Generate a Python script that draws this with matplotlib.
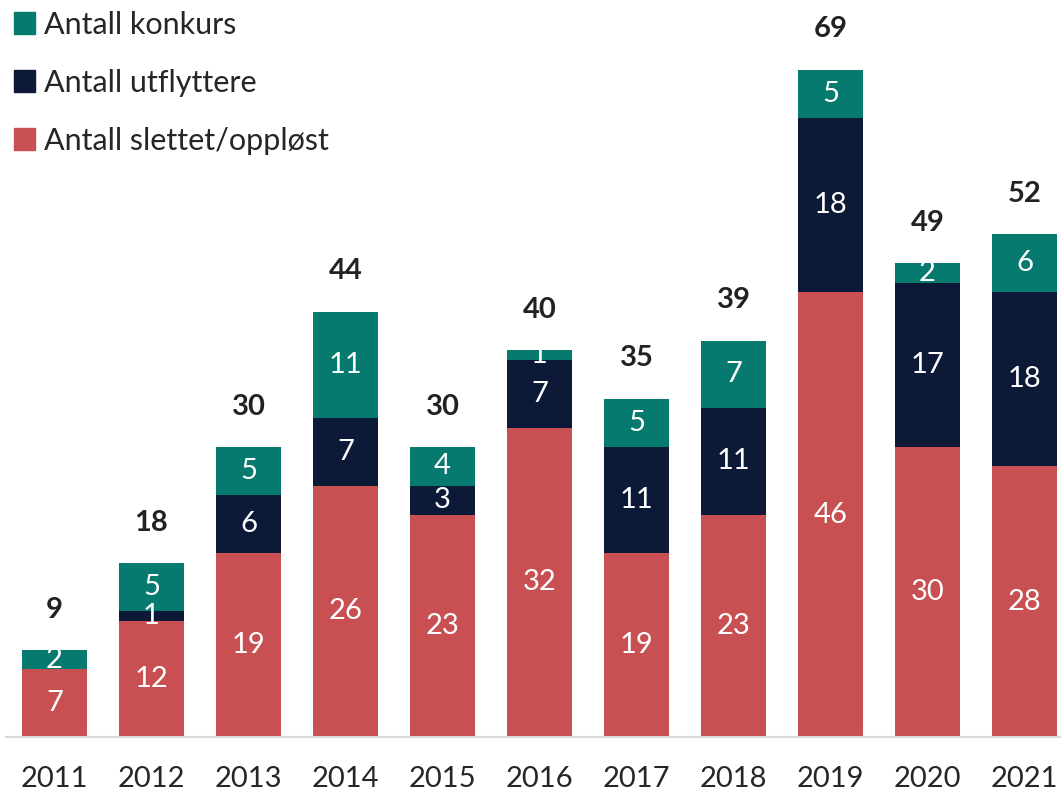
import matplotlib
matplotlib.use("Agg")
import matplotlib.pyplot as plt
from matplotlib.patches import Patch

years = ["2011", "2012", "2013", "2014", "2015", "2016", "2017", "2018", "2019", "2020", "2021"]
slettet = [7, 12, 19, 26, 23, 32, 19, 23, 46, 30, 28]
utflyttere = [0, 1, 6, 7, 3, 7, 11, 11, 18, 17, 18]
konkurs = [2, 5, 5, 11, 4, 1, 5, 7, 5, 2, 6]
totals = [9, 18, 30, 44, 30, 40, 35, 39, 69, 49, 52]

c_red = "#C85052"
c_navy = "#0C1A38"
c_teal = "#077A6F"

plt.rcParams['font.family'] = ['Lato', 'DejaVu Sans']

fig = plt.figure(figsize=(10.61, 7.92), dpi=100)
ax = fig.add_axes([6/1061, 55/792, 1 - 6/1061, 737/792])

x = list(range(len(years)))
w = 0.66
b1 = ax.bar(x, slettet, w, color=c_red, label="Antall slettet/oppløst")
bottom2 = slettet
b2 = ax.bar(x, utflyttere, w, bottom=bottom2, color=c_navy, label="Antall utflyttere")
bottom3 = [a + b for a, b in zip(slettet, utflyttere)]
b3 = ax.bar(x, konkurs, w, bottom=bottom3, color=c_teal, label="Antall konkurs")

for bars, vals in [(b1, slettet), (b2, utflyttere), (b3, konkurs)]:
    labels = [str(v) if v > 0 else "" for v in vals]
    ax.bar_label(bars, labels=labels, label_type='center', color='white', fontsize=21)

tops = [a + b for a, b in zip(bottom3, konkurs)]
for xi, top, t in zip(x, tops, totals):
    ax.annotate(str(t), (xi, top), xytext=(0, 29), textcoords='offset points',
                ha='center', va='center', fontsize=21, fontweight='bold', color='#222222')

ax.set_xlim(-0.5, (1061 - 6) / 97 - 0.5)
ax.set_ylim(0, 737 / 9.67)
ax.set_xticks(x)
ax.set_xticklabels(years, fontsize=21, color='#262626')
ax.tick_params(axis='x', length=0, pad=21)
ax.set_yticks([])
for s in ['top', 'right', 'left']:
    ax.spines[s].set_visible(False)
ax.spines['bottom'].set_color('#D9D9D9')
ax.spines['bottom'].set_linewidth(1.5)

handles = [Patch(color=c_teal), Patch(color=c_navy), Patch(color=c_red)]
labels = ["Antall konkurs", "Antall utflyttere", "Antall slettet/oppløst"]
leg = ax.legend(handles, labels, loc='upper left', bbox_to_anchor=(0.0, 1.0 - 3/737),
                frameon=False, fontsize=22, handlelength=0.7, handleheight=0.7,
                handletextpad=0.3, labelspacing=0.98, borderaxespad=0.0, borderpad=0.25)
for t in leg.get_texts():
    t.set_color('#262626')

fig.savefig("out.png", dpi=100)
